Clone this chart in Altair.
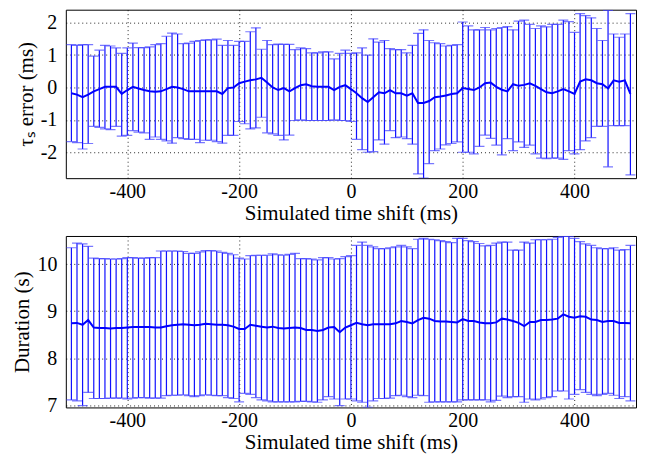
import altair as alt
import pandas as pd

# ---------------- data ----------------
x_ms = list(range(-500, 501, 10))

# top panel: tau_s error (ms)
tau_high = [
    1.32, 1.30, 1.32, 1.32, 0.97, 1.15, 1.30, 1.28, 1.22, 1.05,   # -500..-410
    1.22, 1.37, 1.23, 1.23, 1.25, 1.32, 1.35, 1.58, 1.68, 1.65,   # -400..-310
    1.35, 1.37, 1.42, 1.45, 1.47, 1.47, 1.49, 1.30, 1.45, 1.30,   # -300..-210
    1.42, 1.42, 1.72, 1.84, 1.18, 1.45, 1.32, 1.34, 1.33, 1.33,   # -200..-110
    1.17, 1.22, 1.20, 1.07, 1.07, 1.10, 1.10, 0.88, 1.05, 1.15,   # -100..-10
    1.05, 1.07, 1.22, 1.00, 1.50, 1.40, 1.45, 1.20, 1.17, 1.17,   # 0..90
    1.07, 1.30, 1.67, 1.78, 1.45, 1.38, 1.35, 1.28, 1.30, 1.32,   # 100..190
    2.02, 1.90, 1.78, 1.78, 1.85, 1.78, 1.82, 1.85, 1.88, 1.78,   # 200..290
    2.05, 2.08, 1.95, 1.82, 1.90, 1.87, 1.95, 1.95, 2.08, 2.03,   # 300..390
    1.70, 2.28, 2.22, 2.15, 1.82, 1.45, 2.38, 1.65, 1.55, 1.65,   # 400..490
    2.28,                                                         # 500
]
tau_low = [
    -1.67, -1.70, -1.90, -1.73, -1.20, -1.23, -1.28, -1.30, -1.20, -1.50,
    -1.48, -1.33, -1.38, -1.40, -1.60, -1.53, -1.60, -1.65, -1.72, -1.55,
    -1.58, -1.60, -1.60, -1.70, -1.63, -1.63, -1.67, -1.72, -1.48, -1.48,
    -1.05, -1.12, -1.28, -1.25, -0.92, -1.40, -1.43, -1.48, -1.62, -1.47,
    -1.02, -1.00, -1.02, -1.02, -1.02, -1.02, -1.02, -1.00, -1.02, -1.02,
    -1.05, -1.60, -1.92, -2.00, -1.98, -1.62, -1.75, -1.33, -1.55, -1.53,
    -1.58, -1.75, -2.67, -2.80, -2.35, -1.95, -1.90, -1.77, -1.73, -1.68,
    -2.00, -2.00, -2.05, -1.82, -1.47, -1.57, -1.78, -2.08, -1.58, -1.95,
    -1.68, -1.85, -1.78, -2.05, -2.18, -2.20, -2.18, -2.18, -2.22, -1.95,
    -2.05, -1.92, -1.65, -1.55, -1.20, -1.20, -2.45, -1.18, -1.18, -1.18,
    -2.70,
]
tau_mean = [
    -0.18, -0.22, -0.30, -0.22, -0.12, -0.05, 0.02, 0.02, 0.02, -0.20,
    -0.08, 0.02, -0.03, -0.08, -0.12, -0.13, -0.12, -0.05, 0.02, 0.00,
    -0.05, -0.12, -0.12, -0.12, -0.12, -0.12, -0.12, -0.20, -0.02, 0.00,
    0.13, 0.18, 0.22, 0.25, 0.30, 0.15, 0.00, -0.08, -0.02, -0.12,
    -0.02, 0.07, 0.10, 0.04, 0.02, 0.02, 0.02, -0.08, 0.02, 0.07,
    -0.05, -0.18, -0.33, -0.45, -0.30, -0.15, -0.18, -0.08, -0.18, -0.18,
    -0.25, -0.18, -0.48, -0.48, -0.42, -0.30, -0.28, -0.25, -0.20, -0.18,
    -0.02, -0.05, -0.08, 0.00, 0.13, 0.15, 0.02, -0.07, -0.12, 0.10,
    0.05, 0.08, 0.13, 0.05, -0.05, -0.15, -0.18, -0.12, -0.05, -0.12,
    -0.20, 0.18, 0.25, 0.22, 0.13, 0.10, -0.03, 0.22, 0.18, 0.22,
    -0.20,
]

# bottom panel: duration (s)
dur_high = [
    10.35, 10.45, 10.43, 10.38, 10.13, 10.12, 10.12, 10.11, 10.11, 10.12,
    10.14, 10.14, 10.13, 10.13, 10.14, 10.14, 10.28, 10.28, 10.28, 10.28,
    10.27, 10.23, 10.23, 10.26, 10.29, 10.29, 10.28, 10.25, 10.23, 10.20,
    10.13, 10.11, 10.18, 10.19, 10.19, 10.19, 10.22, 10.20, 10.19, 10.21,
    10.23, 10.12, 10.12, 10.11, 10.09, 10.14, 10.14, 10.11, 10.12, 10.16,
    10.18, 10.40, 10.47, 10.40, 10.37, 10.33, 10.33, 10.35, 10.37, 10.40,
    10.37, 10.33, 10.53, 10.55, 10.53, 10.52, 10.50, 10.48, 10.46, 10.55,
    10.55, 10.50, 10.48, 10.44, 10.39, 10.40, 10.45, 10.47, 10.47, 10.30,
    10.30, 10.47, 10.45, 10.52, 10.52, 10.52, 10.53, 10.57, 10.59, 10.59,
    10.55, 10.48, 10.43, 10.40, 10.35, 10.33, 10.33, 10.35, 10.30, 10.31,
    10.40,
]
dur_low = [
    7.11, 7.09, 6.99, 7.27, 7.14, 7.14, 7.14, 7.15, 7.15, 7.15,
    7.13, 7.15, 7.16, 7.16, 7.15, 7.15, 7.15, 7.20, 7.21, 7.21,
    7.22, 7.20, 7.18, 7.20, 7.22, 7.21, 7.20, 7.20, 7.16, 7.14,
    7.07, 7.25, 7.23, 7.16, 7.11, 7.09, 7.07, 7.07, 7.07, 7.07,
    7.07, 7.08, 7.08, 7.07, 7.06, 7.11, 7.18, 7.13, 6.99, 7.13,
    7.13, 7.09, 7.06, 6.95, 7.09, 7.14, 7.14, 7.15, 7.20, 7.21,
    7.18, 7.16, 7.21, 7.20, 7.06, 7.07, 7.07, 7.07, 7.07, 7.07,
    7.11, 7.11, 7.11, 7.11, 7.11, 7.07, 7.10, 7.19, 7.16, 7.18,
    7.18, 7.06, 7.13, 7.11, 7.13, 7.16, 7.18, 7.30, 7.30, 7.13,
    7.23, 7.33, 7.27, 7.23, 7.20, 7.23, 7.25, 7.21, 7.14, 7.18,
    7.09,
]
dur_mean = [
    8.74, 8.75, 8.71, 8.81, 8.65, 8.64, 8.64, 8.63, 8.64, 8.64,
    8.65, 8.66, 8.66, 8.66, 8.66, 8.65, 8.65, 8.68, 8.70, 8.71,
    8.72, 8.71, 8.70, 8.71, 8.73, 8.72, 8.71, 8.71, 8.70, 8.67,
    8.62, 8.62, 8.71, 8.69, 8.67, 8.65, 8.67, 8.64, 8.63, 8.64,
    8.65, 8.64, 8.60, 8.60, 8.58, 8.60, 8.65, 8.66, 8.55, 8.65,
    8.70, 8.75, 8.72, 8.70, 8.72, 8.72, 8.72, 8.72, 8.74, 8.79,
    8.77, 8.74, 8.81, 8.86, 8.84, 8.79, 8.78, 8.78, 8.77, 8.76,
    8.83, 8.79, 8.79, 8.76, 8.74, 8.74, 8.76, 8.84, 8.82, 8.79,
    8.75, 8.68, 8.77, 8.77, 8.81, 8.81, 8.82, 8.84, 8.93, 8.88,
    8.86, 8.89, 8.88, 8.82, 8.81, 8.77, 8.79, 8.79, 8.75, 8.75,
    8.74,
]

x_ticks = [-400, -200, 0, 200, 400]
tau_ticks = [-2, -1, 0, 1, 2]
dur_ticks = [7, 8, 9, 10]

# ---------------- chart ----------------
BLUE = "#0000ff"
WHISKER = "#1010ff"
CAP = "#4040ff"
FONT = "'Liberation Serif', 'Times New Roman', Times, serif"
LFS = 20
TFS = 21
LABEL_EXPR = "replace(datum.label, '\u2212', '-')"


def axis_x():
    return alt.Axis(values=x_ticks, title="Simulated time shift (ms)",
                    labelExpr=LABEL_EXPR, labelFont=FONT, titleFont=FONT,
                    labelFontSize=LFS, titleFontSize=TFS, labelPadding=3,
                    titlePadding=1)


def axis_y(ticks, title):
    return alt.Axis(values=ticks, title=title, labelExpr=LABEL_EXPR,
                    labelFont=FONT, titleFont=FONT, labelFontSize=LFS,
                    titleFontSize=TFS, labelPadding=9, titlePadding=4)


def panel(lo, hi, mean, ydomain, yticks, ytitle, height):
    df = pd.DataFrame({"x": x_ms, "lo": lo, "hi": hi, "mean": mean})
    base = alt.Chart(df)
    xs = alt.Scale(domain=[-510, 510], nice=False, zero=False)
    ys = alt.Scale(domain=ydomain, nice=False, zero=False)
    rules = base.mark_rule(color=WHISKER, strokeWidth=1.2, clip=True).encode(
        x=alt.X("x:Q", scale=xs, axis=axis_x()),
        y=alt.Y("lo:Q", scale=ys, axis=axis_y(yticks, ytitle)),
        y2="hi:Q",
    )
    cap_lo = base.mark_tick(orient="horizontal", size=10, thickness=1.2,
                            color=CAP, clip=True).encode(
        x=alt.X("x:Q", scale=xs), y=alt.Y("lo:Q", scale=ys)
    )
    cap_hi = base.mark_tick(orient="horizontal", size=10, thickness=1.2,
                            color=CAP, clip=True).encode(
        x=alt.X("x:Q", scale=xs), y=alt.Y("hi:Q", scale=ys)
    )
    line = base.mark_line(color=BLUE, strokeWidth=2, clip=True).encode(
        x=alt.X("x:Q", scale=xs), y=alt.Y("mean:Q", scale=ys)
    )
    return alt.layer(rules, cap_lo, cap_hi, line).properties(width=572, height=height)


top = panel(tau_low, tau_high, tau_mean, [-2.8, 2.4], tau_ticks,
            "\u03c4\u209b error (ms)", 169)
bottom = panel(dur_low, dur_high, dur_mean, [6.95, 10.6], dur_ticks,
               "Duration (s)", 172)

chart = (
    alt.vconcat(top, bottom, spacing=11)
    .properties(padding={"left": 3, "top": 0, "right": 0, "bottom": 0},
                background="white")
    .configure_view(stroke="black", strokeWidth=1)
    .configure_axis(
        labelFont=FONT, titleFont=FONT, labelFontSize=LFS, titleFontSize=TFS,
        titleFontWeight="normal", labelColor="black", titleColor="black",
        grid=True, gridColor="black", gridDash=[1, 3], gridOpacity=0.85,
        gridWidth=1, ticks=False, domain=False,
    )
)

chart.save("out.html", embed_options={"renderer": "svg", "actions": False})
